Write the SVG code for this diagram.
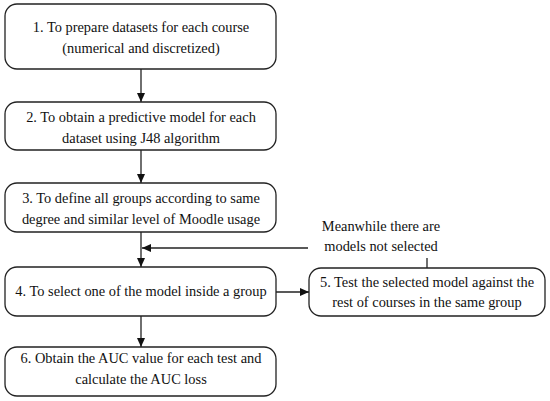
<svg xmlns="http://www.w3.org/2000/svg" width="550" height="401" viewBox="0 0 550 401">
<defs>
<style>
.box{fill:#fff;stroke:#222;stroke-width:1.3}
.t{font-family:"Liberation Serif","DejaVu Serif",serif;font-size:14.4px;fill:#111;text-anchor:middle}
.c{stroke:#222;stroke-width:1.3;fill:none}
</style>
<marker id="ah" markerWidth="10" markerHeight="10" refX="9" refY="5" orient="auto" markerUnits="userSpaceOnUse">
<path d="M0,1 L9,5 L0,9 Z" fill="#111"/>
</marker>
</defs>
<rect width="550" height="401" fill="#fff"/>
<g id="connectors">
<line class="c" x1="141" y1="69" x2="141" y2="102" marker-end="url(#ah)"/>
<line class="c" x1="141" y1="150" x2="141" y2="183" marker-end="url(#ah)"/>
<line class="c" x1="141" y1="232" x2="141" y2="267" marker-end="url(#ah)"/>
<line class="c" x1="141" y1="316" x2="141" y2="347" marker-end="url(#ah)"/>
<line class="c" x1="276" y1="292" x2="309" y2="292" marker-end="url(#ah)"/>
<line class="c" x1="308" y1="248" x2="142" y2="248" marker-end="url(#ah)"/>
<line class="c" x1="427" y1="258" x2="427" y2="268"/>
<text class="t"><tspan x="381" y="231">Meanwhile there are</tspan><tspan x="381" y="251">models not selected</tspan></text>
</g>
<g id="n1">
<rect class="box" x="5" y="4" width="271" height="65" rx="12"/>
<text class="t"><tspan x="141" y="32">1. To prepare datasets for each course</tspan><tspan x="141" y="53">(numerical and discretized)</tspan></text>
</g>
<g id="n2">
<rect class="box" x="5" y="102" width="271" height="48" rx="12"/>
<text class="t"><tspan x="141" y="122">2. To obtain a predictive model for each</tspan><tspan x="141" y="143">dataset using J48 algorithm</tspan></text>
</g>
<g id="n3">
<rect class="box" x="5" y="183" width="271" height="49" rx="12"/>
<text class="t"><tspan x="141" y="203">3. To define all groups according to same</tspan><tspan x="141" y="224">degree and similar level of Moodle usage</tspan></text>
</g>
<g id="n4">
<rect class="box" x="5" y="267" width="271" height="49" rx="12"/>
<text class="t"><tspan x="141" y="296">4. To select one of the model inside a group</tspan></text>
</g>
<g id="n5">
<rect class="box" x="309" y="268" width="236" height="48" rx="12"/>
<text class="t"><tspan x="427" y="287">5. Test the selected model against the</tspan><tspan x="427" y="307">rest of courses in the same group</tspan></text>
</g>
<g id="n6">
<rect class="box" x="5" y="347" width="271" height="49" rx="12"/>
<text class="t"><tspan x="141" y="363">6. Obtain the AUC value for each test and</tspan><tspan x="141" y="384">calculate the AUC loss</tspan></text>
</g>
</svg>
